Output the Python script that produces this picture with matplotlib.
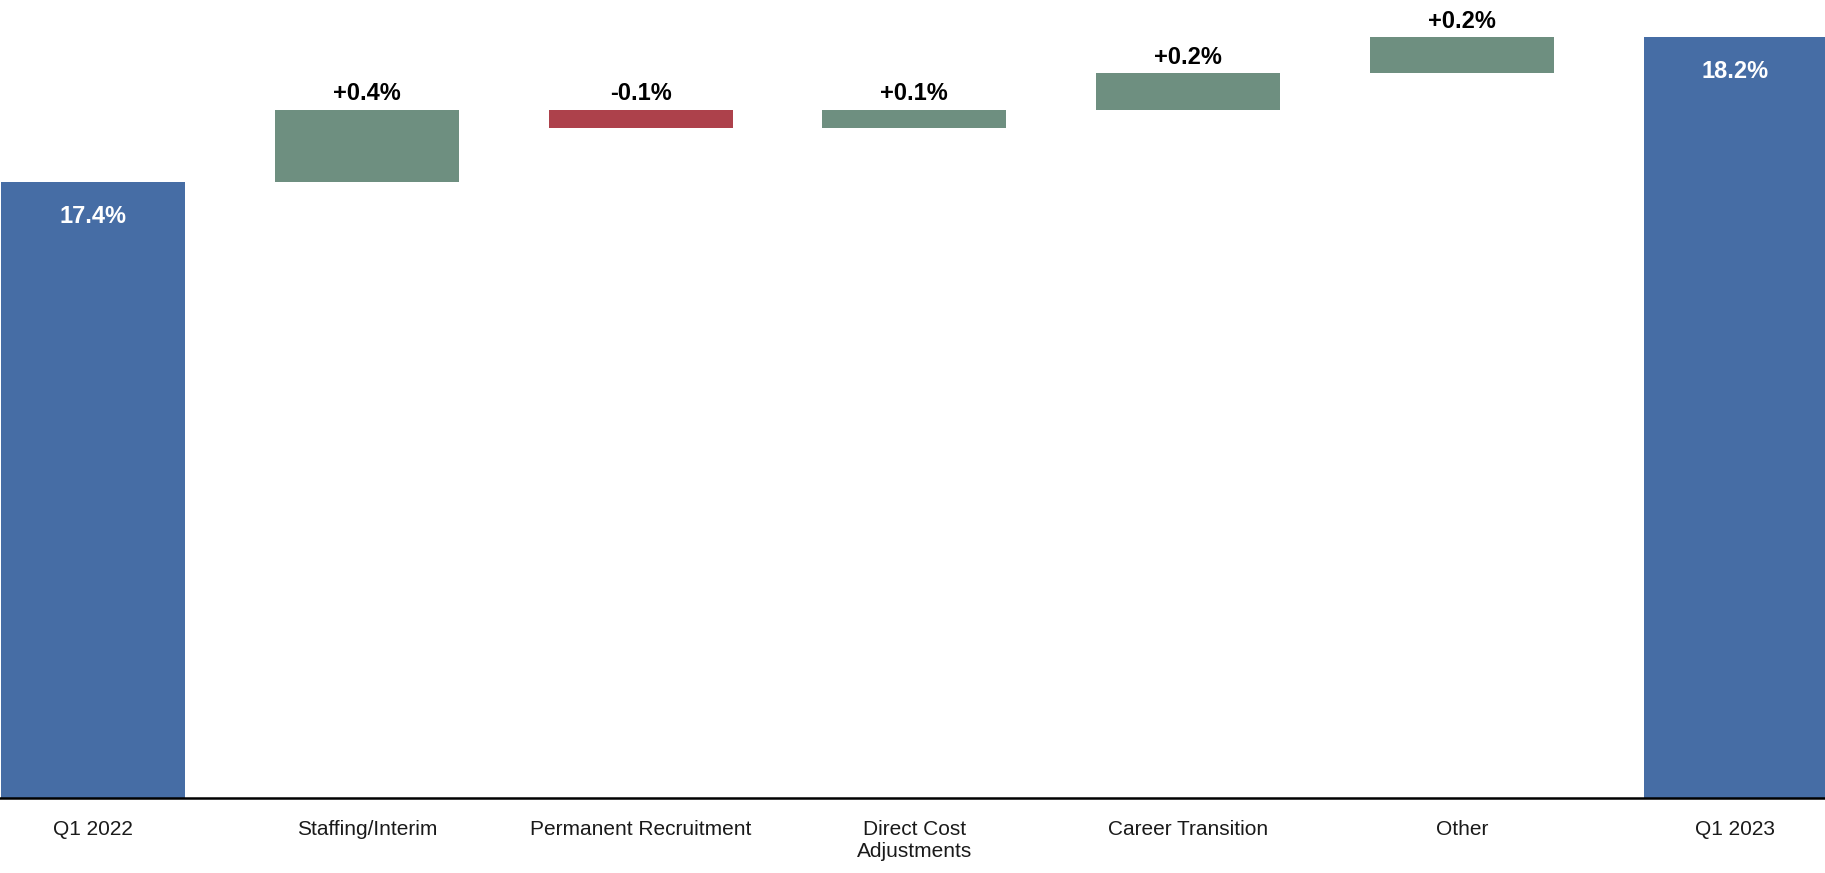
import matplotlib
matplotlib.use("Agg")
import matplotlib.pyplot as plt
import numpy as np

categories = ["Q1 2022", "Staffing/Interim", "Permanent Recruitment",
              "Direct Cost\nAdjustments", "Career Transition", "Other", "Q1 2023"]
start_value = 17.4
changes = [0.4, -0.1, 0.1, 0.2, 0.2]
end_value = 18.2
labels = ["17.4%", "+0.4%", "-0.1%", "+0.1%", "+0.2%", "+0.2%", "18.2%"]

c_total = "#466DA5"
c_up = "#6E8F80"
c_down = "#AD414B"

plt.rcParams['font.family'] = ['Liberation Sans', 'DejaVu Sans']

fig = plt.figure(figsize=(18.25, 8.73), dpi=100)
ax = fig.add_axes([0.0, 0.086, 1.0, 0.914])

ymin = 14.0
width = 0.672
x = np.arange(len(categories))

# totals
ax.bar(x[0], start_value - ymin, bottom=ymin, width=width, color=c_total)
ax.bar(x[-1], end_value - ymin, bottom=ymin, width=width, color=c_total)
ax.text(x[0], start_value - 0.19, labels[0], ha="center", va="center",
        color="white", fontsize=17, fontweight="bold")
ax.text(x[-1], end_value - 0.19, labels[-1], ha="center", va="center",
        color="white", fontsize=17, fontweight="bold")

running = start_value
for i, d in enumerate(changes):
    xi = x[i + 1]
    lo = running if d >= 0 else running + d
    ax.bar(xi, abs(d), bottom=lo, width=width, color=c_up if d >= 0 else c_down)
    top = max(running, running + d)
    ax.text(xi, top + 0.025, labels[i + 1], ha="center", va="bottom",
            color="black", fontsize=17, fontweight="bold")
    running += d

ax.set_xlim(-0.34, len(categories) - 1 + 0.327)
ax.set_ylim(ymin, 18.405)
ax.set_xticks(x)
ax.set_xticklabels(categories, fontsize=15, color="#1a1a1a", linespacing=1.2)
ax.tick_params(axis="x", length=0, pad=16)
ax.set_yticks([])
for s in ["top", "right", "left"]:
    ax.spines[s].set_visible(False)
ax.spines["bottom"].set_linewidth(1.8)
ax.spines["bottom"].set_color("black")

fig.savefig("out.png", dpi=100)
